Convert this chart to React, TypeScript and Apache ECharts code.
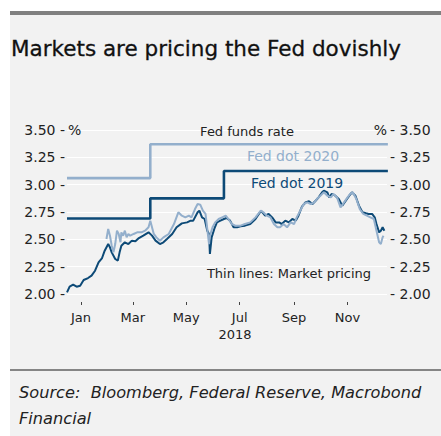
import React, { useEffect, useRef } from "react";
import * as echarts from "echarts";

// Ticks / labels
const yTicks = [2.0, 2.25, 2.5, 2.75, 3.0, 3.25, 3.5];
const tickMonths = [0, 2, 4, 6, 8, 10];
const tickLabels = ["Jan", "Mar", "May", "Jul", "Sep", "Nov"];
const yearLabel = "2018";

// Days counted from 1 Jan 2018
const fedDot2020Days = [-16, 79, 350];
const fedDot2020Values = [3.06, 3.37, 3.37];
const fedDot2019Days = [-16, 79, 163, 350];
const fedDot2019Values = [2.69, 2.875, 3.125, 3.125];

const market2019Days = [
  -16, -13, -9, -5, -1, 3, 8, 12, 16, 20, 24, 27, 31, 33, 35, 39, 42, 44, 46, 50,
  54, 58, 62, 66, 71, 77, 81, 85, 90, 94, 98, 104, 109, 115, 121, 125, 128, 133, 135, 138,
  141, 144, 146, 147, 149, 152, 155, 159, 163, 166, 170, 174, 178, 182, 187, 193, 199, 204, 206, 210,
  214, 218, 222, 226, 229, 233, 237, 241, 245, 248, 252, 256, 260, 264, 267, 271, 275, 277, 281, 283,
  286, 290, 294, 298, 302, 306, 309, 313, 317, 321, 325, 328, 332, 335, 337, 340, 342, 344, 346,
];
const market2019Values = [
  2.015, 2.067, 2.085, 2.067, 2.076, 2.128, 2.146, 2.168, 2.213, 2.29, 2.329, 2.396, 2.457, 2.427, 2.381, 2.32, 2.305, 2.381, 2.442, 2.473,
  2.457, 2.488, 2.482, 2.512, 2.534, 2.564, 2.534, 2.488, 2.457, 2.473, 2.503, 2.549, 2.61, 2.646, 2.655, 2.671, 2.671, 2.747, 2.762, 2.701,
  2.686, 2.579, 2.549, 2.366, 2.518, 2.595, 2.655, 2.671, 2.686, 2.695, 2.671, 2.61, 2.61, 2.619, 2.625, 2.64, 2.686, 2.747, 2.756, 2.716,
  2.732, 2.701, 2.655, 2.655, 2.64, 2.671, 2.655, 2.686, 2.671, 2.716, 2.799, 2.838, 2.848, 2.823, 2.848, 2.884, 2.93, 2.945, 2.93, 2.884,
  2.915, 2.899, 2.869, 2.808, 2.854, 2.899, 2.93, 2.899, 2.808, 2.747, 2.738, 2.732, 2.732, 2.701, 2.64, 2.564, 2.579, 2.61, 2.579,
];

const market2020Days = [
  29, 31, 33, 35, 37, 39, 41, 43, 45, 46, 48, 50, 52, 54, 56, 60, 64, 69, 73, 77,
  79, 83, 86, 90, 94, 100, 106, 111, 115, 119, 123, 126, 130, 133, 136, 139, 142, 144, 146, 147,
  150, 153, 157, 161, 165, 168, 172, 176, 182, 187, 193, 199, 205, 208, 212, 216, 220, 224, 227, 231,
  235, 239, 243, 246, 250, 254, 258, 262, 266, 269, 273, 277, 281, 285, 288, 292, 296, 300, 304, 307,
  310, 314, 318, 322, 326, 330, 334, 337, 340, 342, 344, 345,
];
const market2020Values = [
  2.503, 2.595, 2.533, 2.442, 2.381, 2.457, 2.579, 2.549, 2.473, 2.564, 2.533, 2.579, 2.518, 2.549, 2.533, 2.549, 2.564, 2.564, 2.579, 2.61,
  2.671, 2.549, 2.518, 2.488, 2.518, 2.549, 2.64, 2.747, 2.716, 2.701, 2.716, 2.701, 2.777, 2.823, 2.817, 2.762, 2.732, 2.595, 2.457, 2.533,
  2.61, 2.655, 2.686, 2.701, 2.716, 2.686, 2.64, 2.625, 2.625, 2.64, 2.655, 2.701, 2.762, 2.747, 2.716, 2.701, 2.64, 2.61, 2.61, 2.64,
  2.61, 2.655, 2.64, 2.701, 2.762, 2.823, 2.838, 2.823, 2.838, 2.869, 2.899, 2.93, 2.899, 2.884, 2.915, 2.884, 2.793, 2.838, 2.884, 2.915,
  2.93, 2.869, 2.777, 2.732, 2.716, 2.701, 2.686, 2.579, 2.473, 2.457, 2.518, 2.533,
];

const DAY = 86400000;
const BASE = Date.UTC(2018, 0, 1);
const dayOfYear = (m: number) => Math.round((Date.UTC(2018, m, 1) - BASE) / DAY);
const pairs = (days: number[], vals: number[]) => days.map((d, i) => [d, vals[i]]);

const DARK = "#0d4a77";
const LIGHT = "#93afcc";
const TEXT = "#222222";
const FONT = "DejaVu Sans";

export default function App() {
  const ref = useRef<HTMLDivElement>(null);

  useEffect(() => {
    if (!ref.current) return;
    const chart = echarts.init(ref.current, null, { renderer: "svg" });
    const tickDays = tickMonths.map(dayOfYear);

    chart.setOption({
      animation: false,
      backgroundColor: "transparent",
      grid: { left: 67, right: 54, top: 130, bottom: 142, containLabel: false },
      xAxis: {
        type: "value",
        min: -16,
        max: 349,
        offset: 8,
        axisLine: { show: false },
        splitLine: { show: false },
        axisTick: {
          show: true,
          length: 3,
          customValues: tickDays,
          lineStyle: { color: "#444", width: 1 },
        },
        axisLabel: {
          customValues: tickDays,
          margin: 9,
          color: TEXT,
          fontFamily: FONT,
          fontSize: 13,
          formatter: (v: number) => {
            const i = tickDays.findIndex((t) => Math.abs(t - v) < 0.5);
            return i >= 0 ? tickLabels[i] : "";
          },
        },
      },
      yAxis: [
        {
          type: "value",
          min: yTicks[0],
          max: yTicks[yTicks.length - 1],
          interval: 0.25,
          position: "left",
          axisLine: { show: false },
          axisTick: { show: false },
          splitLine: { show: true, lineStyle: { color: "#ffffff", width: 1 } },
          axisLabel: {
            margin: 2,
            color: TEXT,
            fontFamily: FONT,
            fontSize: 14,
            formatter: (v: number) => v.toFixed(2) + " -",
          },
        },
        {
          type: "value",
          min: yTicks[0],
          max: yTicks[yTicks.length - 1],
          interval: 0.25,
          position: "right",
          axisLine: { show: false },
          axisTick: { show: false },
          splitLine: { show: false },
          axisLabel: {
            margin: 3,
            color: TEXT,
            fontFamily: FONT,
            fontSize: 14,
            formatter: (v: number) => "- " + v.toFixed(2),
          },
        },
      ],
      series: [
        {
          name: "Fed dot 2020",
          type: "line",
          step: "end",
          symbol: "none",
          data: pairs(fedDot2020Days, fedDot2020Values),
          lineStyle: { color: LIGHT, width: 2.6 },
          z: 3,
        },
        {
          name: "Fed dot 2019",
          type: "line",
          step: "end",
          symbol: "none",
          data: pairs(fedDot2019Days, fedDot2019Values),
          lineStyle: { color: DARK, width: 2.6 },
          z: 4,
        },
        {
          name: "Market 2020",
          type: "line",
          symbol: "none",
          data: pairs(market2020Days, market2020Values),
          lineStyle: { color: LIGHT, width: 2 },
          z: 5,
        },
        {
          name: "Market 2019",
          type: "line",
          symbol: "none",
          data: pairs(market2019Days, market2019Values),
          lineStyle: { color: DARK, width: 2 },
          z: 4,
        },
      ],
      graphic: [
        {
          type: "text",
          x: 11,
          y: 48,
          style: {
            text: "Markets are pricing the Fed dovishly",
            font: `21.5px '${FONT}'`,
            fill: "#111",
            align: "left",
            verticalAlign: "middle",
            stroke: "#111",
            lineWidth: 0.3,
          },
          z: 100,
        },
        {
          type: "text",
          x: 247,
          y: 131,
          style: { text: "Fed funds rate", font: `13px '${FONT}'`, fill: TEXT, align: "center", verticalAlign: "middle" },
          z: 100,
        },
        {
          type: "text",
          x: 68,
          y: 130,
          style: { text: "%", font: `14px '${FONT}'`, fill: TEXT, align: "left", verticalAlign: "middle" },
          z: 100,
        },
        {
          type: "text",
          x: 387,
          y: 130,
          style: { text: "%", font: `14px '${FONT}'`, fill: TEXT, align: "right", verticalAlign: "middle" },
          z: 100,
        },
        {
          type: "text",
          x: 293,
          y: 156,
          style: { text: "Fed dot 2020", font: `14px '${FONT}'`, fill: LIGHT, align: "center", verticalAlign: "middle" },
          z: 100,
        },
        {
          type: "text",
          x: 297,
          y: 183,
          style: { text: "Fed dot 2019", font: `14px '${FONT}'`, fill: DARK, align: "center", verticalAlign: "middle" },
          z: 100,
        },
        {
          type: "text",
          x: 289,
          y: 273,
          style: { text: "Thin lines: Market pricing", font: `13px '${FONT}'`, fill: TEXT, align: "center", verticalAlign: "middle" },
          z: 100,
        },
        {
          type: "text",
          x: 235,
          y: 334,
          style: { text: yearLabel, font: `13px '${FONT}'`, fill: TEXT, align: "center", verticalAlign: "middle" },
          z: 100,
        },
        {
          type: "text",
          x: 19,
          y: 392,
          style: {
            text: "Source:  Bloomberg, Federal Reserve, Macrobond",
            font: `italic 16.2px '${FONT}'`,
            fill: TEXT,
            align: "left",
            verticalAlign: "middle",
          },
          z: 100,
        },
        {
          type: "text",
          x: 19,
          y: 418,
          style: { text: "Financial", font: `italic 16.2px '${FONT}'`, fill: TEXT, align: "left", verticalAlign: "middle" },
          z: 100,
        },
      ],
    });
    return () => chart.dispose();
  }, []);

  return (
    <div style={{ position: "fixed", left: 0, top: 0, width: 441, height: 436, background: "#ffffff", overflow: "hidden" }}>
      <div style={{ position: "absolute", left: 10, top: 11, width: 431, height: 4, background: "#808080" }} />
      <div style={{ position: "absolute", left: 10, top: 15, width: 431, height: 421, background: "#f2f2f2" }} />
      <div style={{ position: "absolute", left: 10, top: 369, width: 431, height: 2, background: "#858585" }} />
      <div ref={ref} style={{ position: "absolute", left: 0, top: 0, width: 441, height: 436 }} />
    </div>
  );
}
